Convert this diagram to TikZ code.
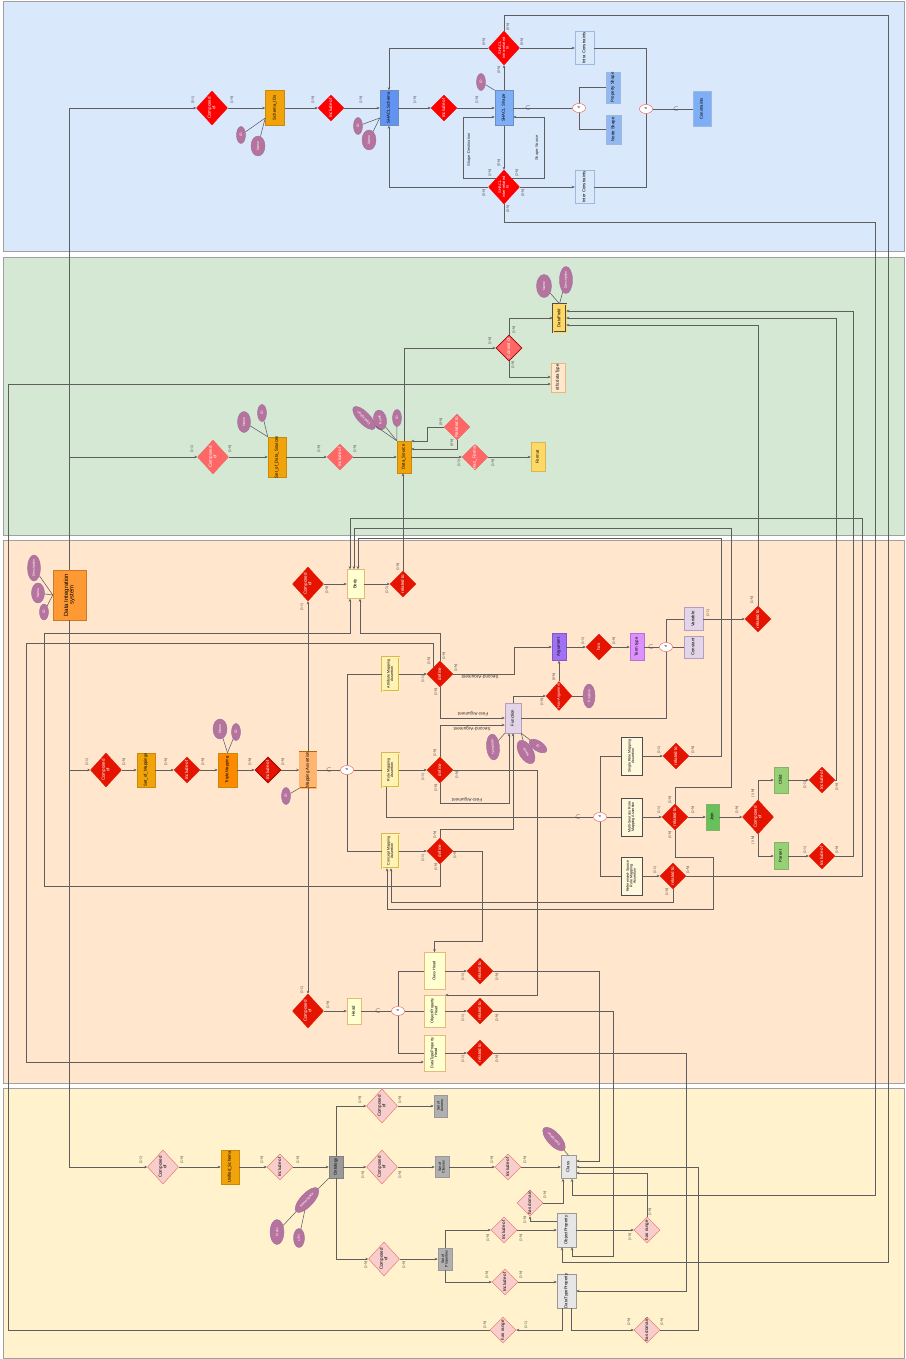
\documentclass[tikz,border=0pt]{standalone}
\usepackage{fontspec,graphicx}
\setmainfont{Liberation Sans}
\usetikzlibrary{positioning,arrows.meta,shapes.geometric}
\definecolor{bandblue}{HTML}{DAE8FC}
\definecolor{bandgreen}{HTML}{D5E8D4}
\definecolor{bandorange}{HTML}{FFE6CC}
\definecolor{bandyellow}{HTML}{FFF2CC}
\definecolor{bandline}{HTML}{A0A0A0}
\definecolor{wire}{HTML}{5E5E5E}
\definecolor{redbright}{HTML}{FF0000}
\definecolor{redsoft}{HTML}{FF6666}
\definecolor{reddeep}{HTML}{E51400}
\definecolor{redline}{HTML}{A50000}
\definecolor{rosefill}{HTML}{F8CECC}
\definecolor{roseline}{HTML}{EA6B66}
\definecolor{mauve}{HTML}{B5739D}
\definecolor{mauveline}{HTML}{9673A6}
\definecolor{amber}{HTML}{F0A30A}
\definecolor{amberline}{HTML}{C98A08}
\definecolor{royal}{HTML}{6393F0}
\definecolor{sky}{HTML}{7EAEF5}
\definecolor{skyline}{HTML}{6C8EBF}
\definecolor{paleblue}{HTML}{92B8F2}
\definecolor{frameblue}{HTML}{A0B8E0}
\definecolor{gold}{HTML}{FFD966}
\definecolor{goldline}{HTML}{D6B656}
\definecolor{peachline}{HTML}{E6B87A}
\definecolor{tangerine}{HTML}{FF9933}
\definecolor{pumpkin}{HTML}{FF8A00}
\definecolor{apricot}{HTML}{FFB570}
\definecolor{rust}{HTML}{B46504}
\definecolor{cream}{HTML}{FFF2B3}
\definecolor{ivory}{HTML}{FFFFD0}
\definecolor{linen}{HTML}{FFF8DC}
\definecolor{grape}{HTML}{A070F5}
\definecolor{orchid}{HTML}{DD90FF}
\definecolor{lilac}{HTML}{E1D5E7}
\definecolor{grass}{HTML}{67C05A}
\definecolor{leaf}{HTML}{97D077}
\definecolor{leafline}{HTML}{82B366}
\definecolor{slate}{HTML}{999999}
\definecolor{ash}{HTML}{B0B0B0}
\definecolor{mist}{HTML}{E6E6E6}
\newcommand{\vt}[1]{\makebox[0pt]{\raisebox{-.5\height}[0pt][0pt]{\rotatebox{90}{\def\arraystretch{.8}\begin{tabular}{@{}c@{}}#1\end{tabular}}}}}

\begin{document}
\begin{tikzpicture}[x=1pt,y=-1pt,font=\fontsize{4.3}{4.8}\selectfont,
  band/.style={draw=bandline,line width=.6pt},
  sz/.style 2 args={minimum width=#1,minimum height=#2},
  ent/.style={rectangle,inner sep=0,line width=.5pt},
  rel/.style={diamond,inner sep=0,minimum width=26,minimum height=26,line width=.4pt,text=white,font=\fontsize{4.5}{4.9}\selectfont},
  big/.style={minimum width=31,minimum height=34},
  relA/.style={rel,fill=redbright,draw=redbright},
  relG/.style={rel,fill=redsoft,draw=roseline},
  relO/.style={rel,fill=reddeep,draw=reddeep},
  relY/.style={rel,fill=rosefill,draw=roseline,text=black},
  attr/.style={ellipse,inner sep=0,fill=mauve,draw=mauveline,line width=.4pt,text=white,font=\fontsize{3.5}{3.8}\selectfont},
  spec/.style={ellipse,inner sep=0,minimum width=13,minimum height=9,draw=roseline,fill=white,line width=.5pt,font=\fontsize{3.4}{3.8}\selectfont},
  sub/.style={inner sep=0,text=black!80,font=\fontsize{6}{6}\selectfont},
  card/.style={rotate=90,inner sep=0,text=black!75,font=\fontsize{3.4}{3.8}\selectfont},
  role/.style={inner sep=0,text=black!80,font=\fontsize{4.6}{5}\selectfont},
  arr/.style={draw=wire,line width=.55pt,-{Stealth[length=3pt,width=2.6pt]}},
  con/.style={draw=wire,line width=.55pt}]
\useasboundingbox (0,0) rectangle (905,1359);
% bands
\draw[band,fill=bandblue] (3,1) rectangle (904,251);
\draw[band,fill=bandgreen] (3,257) rectangle (904,535);
\draw[band,fill=bandorange] (3,540) rectangle (904,1083);
\draw[band,fill=bandyellow] (3,1088) rectangle (904,1358);

% SHACL part
\node[relA,big] (cmpA) at (212,108) {\vt{Composed\\of}};
\node[ent,sz={19}{35},fill=amber,draw=amberline] (schemaIDs) at (275,108) {\vt{Schema\_IDs}};
\node[relA] (incA) at (331,108) {\vt{Include of}};
\node[ent,sz={18}{35},fill=royal,draw=skyline] (shaclSchema) at (389,108) {\vt{SHACL Schema}};
\node[relA] (incB) at (444,108) {\vt{Include of}};
\node[ent,sz={18}{35},fill=sky,draw=skyline] (shaclShape) at (504,108) {\vt{SHACL Shape}};
\node[relA,big,font=\fontsize{3.9}{4.2}\selectfont] (intraRel) at (504,48) {\vt{SHACL\\intra-related\\to}};
\node[relA,big,font=\fontsize{3.9}{4.2}\selectfont] (interRel) at (504,187) {\vt{SHACL\\inter-related\\to}};
\node[ent,sz={19}{33},fill=bandblue,draw=frameblue] (intraC) at (584.5,48) {\vt{Intra Constraints}};
\node[ent,sz={19}{33},fill=bandblue,draw=frameblue] (interC) at (584.5,187) {\vt{Inter Constraints}};
\node[spec] (spcShape) at (579,108) {\vt{d}};
\node[ent,sz={14}{31},fill=paleblue,draw=frameblue] (propShape) at (613,87.5) {\vt{Property Shape}};
\node[ent,sz={15}{29},fill=paleblue,draw=frameblue] (nodeShape) at (613.5,129.5) {\vt{Node Shape}};
\node[spec] (spcCons) at (646,109) {\vt{d}};
\node[ent,sz={18}{35},fill=sky,draw=frameblue] (constraints) at (702,109) {\vt{Constraints}};
\node[attr,sz={17}{9},rotate=90] (idA) at (241,135) {ID};
\node[attr,sz={20}{14},rotate=90] (nameA) at (258,146) {Name};
\node[attr,sz={17}{9},rotate=90] (idB) at (358,126) {ID};
\node[attr,sz={20}{14},rotate=90] (nameB) at (369,140) {Name};
\node[attr,sz={17}{9},rotate=90] (idC) at (481,82) {ID};
\node[role,rotate=90,font=\fontsize{4}{4.4}\selectfont] (dstLbl) at (469,150) {Shape-Destination};
\node[role,rotate=90,font=\fontsize{4}{4.4}\selectfont] (srcLbl) at (537,148) {Shape-Source};

% data sources part
\node[relG,big] (cmpB) at (213,457) {\vt{Composed\\of}};
\node[ent,sz={18}{40},fill=amber,draw=amberline] (setDS) at (277,457) {\vt{Set\_of\_Data\_Sources}};
\node[relG] (incC) at (340,457) {\vt{Include of}};
\node[ent,sz={14}{32},fill=amber,draw=amberline] (dataSource) at (404,457) {\vt{Data\_Source}};
\node[relG] (relE) at (457,427) {\vt{Related to}};
\node[relG] (fmtRel) at (475,457) {\vt{Has\_Format}};
\node[ent,sz={14}{29},fill=gold,draw=goldline] (format) at (538,457) {\vt{Format}};
\node[relG,draw=redline,line width=.8pt] (consist) at (509,348) {\vt{Consist of}};
\node[ent,sz={13}{28},fill=gold,draw=black!70,double=gold,double distance=.6pt] (dataField) at (559.5,318) {\vt{DataField}};
\node[ent,sz={14}{29},fill=bandorange,draw=peachline] (dataType) at (558,377.5) {\vt{rdfs:dataType}};
\node[attr,sz={17}{9},rotate=90] (idD) at (262,413) {ID};
\node[attr,sz={21}{13},rotate=90] (nameD) at (244,422) {Name};
\node[attr,sz={30}{12},rotate=134] (descE) at (364,418) {Description};
\node[attr,sz={20}{13},rotate=100] (nameE) at (380,420) {Name};
\node[attr,sz={17}{9},rotate=90] (idE) at (397,418) {ID};
\node[attr,sz={23}{15},rotate=90] (nameF) at (544,286) {Name};
\node[attr,sz={27}{13},rotate=90] (descF) at (566,280) {Description};

% mapping part
\node[ent,sz={33}{50},fill=tangerine,draw=tangerine!80!black,font=\fontsize{6}{6.8}\selectfont] (dis) at (69.5,595) {\vt{Data Integration\\system}};
\node[attr,sz={26}{13},rotate=90] (descG) at (34,568) {Description};
\node[attr,sz={20}{13},rotate=90] (nameG) at (38,593) {Name};
\node[attr,sz={16}{9},rotate=90] (idG) at (44,612) {ID};
\node[relO,big] (cmpC) at (106,770) {\vt{Composed\\of}};
\node[ent,sz={18}{34},fill=amber,draw=amberline] (setMap) at (146,770) {\vt{Set\_of\_Mappings}};
\node[relO] (incD) at (187,770) {\vt{Include of}};
\node[ent,sz={19}{34},fill=pumpkin,draw=amberline] (triple) at (227.5,770) {\vt{TripleMapping}};
\node[attr,sz={20}{14},rotate=90] (nameH) at (220,729) {Name};
\node[attr,sz={17}{9},rotate=90] (idH) at (236,732) {ID};
\node[relO,draw=redline,line width=.9pt] (incE) at (268,770) {\vt{Include of}};
\node[ent,sz={17}{36},fill=apricot,draw=rust,double=apricot,double distance=.6pt] (mapAss) at (308,770) {\vt{Mapping Assertion}};
\node[attr,sz={17}{9},rotate=90] (idI) at (286,796) {ID};
\node[relO,big] (cmpTop) at (308,584) {\vt{Composed\\of}};
\node[ent,sz={17}{29},fill=ivory,draw=peachline] (body) at (355.5,584) {\vt{Body}};
\node[relO] (relBody) at (403,584) {\vt{related to}};
\node[spec] (spcMap) at (347,770) {\vt{d}};
\node[ent,sz={17}{34},fill=cream,draw=goldline,double=cream,double distance=.5pt,font=\fontsize{3.6}{4}\selectfont] (attrMA) at (390.5,674) {\vt{Attribute Mapping\\Assertion}};
\node[ent,sz={17}{34},fill=cream,draw=goldline,double=cream,double distance=.5pt,font=\fontsize{3.6}{4}\selectfont] (roleMA) at (390.5,770) {\vt{Role Mapping\\Assertion}};
\node[ent,sz={17}{34},fill=cream,draw=goldline,double=cream,double distance=.5pt,font=\fontsize{3.6}{4}\selectfont] (concMA) at (390.5,851) {\vt{Concept Mapping\\Assertion}};
\node[relO] (defA) at (440,674) {\vt{define}};
\node[relO] (defR) at (440,770) {\vt{define}};
\node[relO] (defC) at (440,851) {\vt{define}};
\node[ent,sz={14}{27},fill=grape,draw=grape!80!black] (argument) at (559,647) {\vt{Argument}};
\node[relO] (hasD) at (599,647) {\vt{has}};
\node[ent,sz={14}{27},fill=orchid,draw=orchid!80!black] (termType) at (637,647) {\vt{Term type}};
\node[spec] (spcTerm) at (666,647) {\vt{d}};
\node[ent,sz={19}{23},fill=lilac,draw=mauveline!70] (variable) at (693.5,619) {\vt{Variable}};
\node[ent,sz={19}{22},fill=lilac,draw=mauveline!70] (constant) at (693.5,647) {\vt{Constant}};
\node[relO] (relVar) at (758,619) {\vt{related to}};
\node[ent,sz={16}{30},fill=lilac,draw=mauveline!70] (function) at (513,718) {\vt{Function}};
\node[relO,sz={26}{29},font=\fontsize{3.8}{4.2}\selectfont] (hasArgD) at (559,696) {\vt{Has-Argument}};
\node[attr,sz={24}{12},rotate=90] (position) at (589,696) {Position};
\node[attr,sz={26}{13},rotate=95] (template) at (493,747) {Template};
\node[attr,sz={26}{14},rotate=121] (nameJ) at (526,752) {Name};
\node[attr,sz={20}{10},rotate=-33] (idJ) at (538,746) {ID};
\node[spec] (spcRole) at (600,817) {\vt{d}};
\node[ent,sz={21}{38},fill=linen,draw=black!70,font=\fontsize{3.6}{4}\selectfont] (singleRMA) at (631.5,756) {\vt{Single Role Mapping\\Assertion}};
\node[ent,sz={21}{38},fill=linen,draw=black!70,font=\fontsize{3.6}{4}\selectfont] (multiRMA) at (631.5,817) {\vt{Multi-Sources Role\\Mapping Assertion}};
\node[ent,sz={21}{38},fill=linen,draw=black!70,font=\fontsize{3.6}{4}\selectfont] (refRMA) at (631.5,876) {\vt{Referenced-Source\\Role Mapping\\Assertion}};
\node[relO] (relS) at (676,756) {\vt{related to}};
\node[relO] (relM) at (675,817) {\vt{related to}};
\node[relO] (relR) at (673,876) {\vt{related to}};
\node[ent,sz={13}{26},fill=grass,draw=leafline] (join) at (712.5,817) {\vt{Join}};
\node[relO,big] (cmpJ) at (758,817) {\vt{Composed\\of}};
\node[ent,sz={14}{26},fill=leaf,draw=leafline] (child) at (781,780) {\vt{Child}};
\node[ent,sz={14}{27},fill=leaf,draw=leafline] (parent) at (781,856) {\vt{Parent}};
\node[relO] (incChild) at (822,780) {\vt{Include of}};
\node[relO] (incParent) at (822,856) {\vt{Include of}};
\node[relO,big] (cmpBot) at (308,1011) {\vt{Composed\\of}};
\node[ent,sz={14}{26},fill=ivory,draw=peachline] (head) at (354,1011) {\vt{Head}};
\node[spec] (spcHead) at (398,1011) {\vt{d}};
\node[ent,sz={21}{37},fill=ivory,draw=peachline,font=\fontsize{3.8}{4.2}\selectfont] (classHead) at (434.5,971) {\vt{Class Head}};
\node[ent,sz={21}{32},fill=ivory,draw=peachline,font=\fontsize{3.8}{4.2}\selectfont] (opHead) at (434.5,1011) {\vt{ObjectProperty\\Head}};
\node[ent,sz={21}{36},fill=ivory,draw=peachline,font=\fontsize{3.8}{4.2}\selectfont] (dtpHead) at (434.5,1053) {\vt{DataTypeProperty\\Head}};
\node[relO] (relCH) at (480,971) {\vt{related to}};
\node[relO] (relOH) at (480,1011) {\vt{related to}};
\node[relO] (relDH) at (480,1053) {\vt{related to}};
\node[role,rotate=180] (argS1) at (480,677) {Second-Argument};
\node[role,rotate=180] (argF1) at (473,714) {First-Argument};
\node[role,rotate=180] (argS2) at (472,729) {Second-Argument};
\node[role,rotate=180] (argF2) at (467,800) {First-Argument};

% ontology part
\node[relY,big] (cmpY) at (163,1167) {\vt{Composed\\of}};
\node[ent,sz={18}{34},fill=amber,draw=amberline] (unified) at (230,1167) {\vt{Unified\_Schema}};
\node[relY] (incY) at (280,1167) {\vt{Include of}};
\node[ent,sz={14}{22},fill=slate,draw=black!50] (ontology) at (336,1167) {\vt{Ontology}};
\node[relY,big] (cmpAx) at (382,1106) {\vt{Composed\\of}};
\node[relY,big] (cmpCl) at (382,1167) {\vt{Composed\\of}};
\node[relY,big] (cmpPr) at (384,1259) {\vt{Composed\\of}};
\node[ent,sz={13}{22},fill=ash,draw=slate,font=\fontsize{3.6}{4}\selectfont] (axioms) at (440.5,1106) {\vt{Set of\\Axioms}};
\node[ent,sz={14}{21},fill=ash,draw=slate,font=\fontsize{3.6}{4}\selectfont] (classes) at (442,1167) {\vt{Set of\\Classes}};
\node[ent,sz={14}{22},fill=ash,draw=slate,font=\fontsize{3.6}{4}\selectfont] (props) at (445,1259) {\vt{Set of\\Properties}};
\node[relY] (incCl) at (508,1167) {\vt{Include of}};
\node[relY] (incOP) at (504,1230) {\vt{Include of}};
\node[relY] (incDP) at (505,1282) {\vt{Include of}};
\node[ent,sz={15}{23},fill=mist,draw=slate] (class) at (568.5,1167) {\vt{Class}};
\node[ent,sz={19}{34},fill=mist,draw=slate] (objProp) at (566.5,1230) {\vt{ObjectProperty}};
\node[ent,sz={19}{34},fill=mist,draw=slate] (dtProp) at (566.5,1291) {\vt{DataTypeProperty}};
\node[relY] (domOP) at (530,1203) {\vt{has domain}};
\node[relY] (rngOP) at (647,1230) {\vt{has range}};
\node[relY] (domDP) at (647,1330) {\vt{has domain}};
\node[relY] (rngDP) at (503,1330) {\vt{has range}};
\node[attr,sz={32}{13},rotate=47] (nsK) at (307,1200) {Namespace};
\node[attr,sz={25}{14},rotate=90] (prefK) at (277,1232) {Prefix};
\node[attr,sz={19}{11},rotate=90] (uriK) at (299,1238) {URI};
\node[attr,sz={30}{13},rotate=133] (descL) at (554,1139) {Description};

% attribute links
\draw[con] (idA) -- (schemaIDs.west |- 0,118);
\draw[con] (nameA) -- (schemaIDs.west |- 0,118);
\draw[con] (idB) -- (shaclSchema.west |- 0,118);
\draw[con] (nameB) -- (shaclSchema.west |- 0,118);
\draw[con] (idC) -- (shaclShape.north west);
\draw[con] (idD) -- (setDS.north west);
\draw[con] (nameD) -- (setDS.north west);
\draw[con] (descE) -- (dataSource.north west);
\draw[con] (nameE) -- (dataSource.north west);
\draw[con] (idE) -- (dataSource.north west);
\draw[con] (nameF) -- (dataField.north);
\draw[con] (descF) -- (dataField.north);
\draw[con] (descG) -- (dis.west);
\draw[con] (nameG) -- (dis.west);
\draw[con] (idG) -- (dis.west);
\draw[con] (nameH) -- (triple.north);
\draw[con] (idH) -- (triple.north);
\draw[con] (idI) -- (mapAss.south west);
\draw[con] (position) -- (hasArgD);
\draw[con] (template) -- (function.south west);
\draw[con] (nameJ) -- (function.south east);
\draw[con] (idJ) -- (function.south east);
\draw[con] (nsK) -- (ontology.south west);
\draw[con] (prefK) -- (nsK);
\draw[con] (uriK) -- (nsK);
\draw[con] (descL) -- (class.north);

% SHACL links
\draw[arr] (dis) |- (cmpA);
\draw[arr] (cmpA) -- (schemaIDs);
\draw[arr] (schemaIDs) -- (incA);
\draw[arr] (incA) -- (shaclSchema);
\draw[arr] (shaclSchema) -- (incB);
\draw[arr] (incB) -- (shaclShape);
\draw[arr] (shaclShape) -- (intraRel);
\draw[arr] (shaclShape) -- (interRel);
\draw[arr] (intraRel.west) -| (shaclSchema.north);
\draw[arr] (interRel.west) -| (shaclSchema.south);
\draw[arr] (intraRel) -- (intraC);
\draw[arr] (interRel) -- (interC);
\draw[arr] (interRel.north west) -| (463,117) -- (shaclShape.west |- 0,117);
\draw[arr] (interRel.north east) -| (544,117) -- (shaclShape.east |- 0,117);
\draw[arr] (intraRel.north) |- (888,15) |- (562,1262) -- (objProp.south -| 562,0);
\draw[arr] (interRel.south) |- (875,222) |- (572,1195) -- (class.south -| 572,0);
\draw[con] (shaclShape) -- (spcShape);
\draw[con] (spcShape) |- (propShape);
\draw[con] (spcShape) |- (nodeShape);
\draw[con] (intraC) -| (spcCons);
\draw[con] (interC) -| (spcCons);
\draw[con] (spcCons) -- (constraints);

% data source links
\draw[arr] (dis) |- (cmpB);
\draw[arr] (cmpB) -- (setDS);
\draw[arr] (setDS) -- (incC);
\draw[arr] (incC) -- (dataSource);
\draw[arr] (relE.west) -| (427,441) -- (dataSource.east |- 0,441);
\draw[arr] (relE.south) |- (dataSource.east |- 0,449);
\draw[arr] (dataSource) -- (fmtRel);
\draw[arr] (fmtRel) -- (format);
\draw[arr] (dataSource.north) |- (consist);
\draw[arr] (consist.north) |- (dataField);
\draw[arr] (consist.south) |- (dataType.west |- 0,377);
\draw[arr] (rngDP.west) -| (8,384) -- (dataType.west |- 0,384);

% mapping links
\draw[arr] (dis) |- (cmpC);
\draw[arr] (cmpC) -- (setMap);
\draw[arr] (setMap) -- (incD);
\draw[arr] (incD) -- (triple);
\draw[arr] (triple) -- (incE);
\draw[arr] (incE) -- (mapAss);
\draw[arr] (mapAss) -- (cmpTop);
\draw[arr] (mapAss) -- (cmpBot);
\draw[arr] (cmpTop) -- (body);
\draw[arr] (body) -- (relBody);
\draw[arr] (relBody.north) -- (relBody.north |- dataSource.south);
\draw[con] (mapAss) -- (spcMap);
\draw[con] (spcMap) |- (attrMA);
\draw[con] (spcMap) -- (roleMA);
\draw[con] (spcMap) |- (concMA);
\draw[arr] (attrMA) -- (defA);
\draw[arr] (roleMA) -- (defR);
\draw[arr] (concMA) -- (defC);
\draw[arr] (defA.north) |- (360,633) -- (body.south -| 360,0);
\draw[arr] (defA.north west) |- (26,643) |- (dtpHead.west |- 0,1062);
\draw[arr] (defA.east) -| (514,647) -- (argument);
\draw[arr] (defA.south) |- (function);
\draw[arr] (defR.north) |- (function.west |- 0,725);
\draw[arr] (defR.south) |- (509,803) -- (function.south -| 509,0);
\draw[arr] (defR.east) -| (537,995) -- (opHead.east |- 0,995);
\draw[arr] (defC.north) |- (513,829) -- (function.south);
\draw[arr] (defC.south) |- (44,886) |- (350,633) -- (body.south -| 350,0);
\draw[arr] (defC.east) -| (482,941) -| (classHead.north);
\draw[arr] (argument) -- (hasD);
\draw[arr] (hasD) -- (termType);
\draw[con] (termType) -- (spcTerm);
\draw[con] (spcTerm) |- (variable);
\draw[con] (spcTerm) -- (constant);
\draw[con] (spcTerm) |- (function);
\draw[arr] (variable) -- (relVar);
\draw[arr] (relVar.north) |- (dataField.east |- 0,325);
\draw[arr] (function.north) |- (hasArgD);
\draw[arr] (hasArgD) -- (argument);
\draw[con] (roleMA.south -| 386,0) |- (spcRole);
\draw[con] (spcRole) |- (singleRMA);
\draw[con] (spcRole) -- (multiRMA);
\draw[con] (spcRole) |- (refRMA);
\draw[arr] (singleRMA) -- (relS);
\draw[arr] (multiRMA) -- (relM);
\draw[arr] (refRMA) -- (relR);
\draw[arr] (relS.east) -| (721,538) -| (body.north -| 358,0);
\draw[arr] (relM.north) |- (731,787) |- (354,528) -- (body.north -| 354,0);
\draw[arr] (relR.east) -| (862,518) -| (body.north -| 350,0);
\draw[arr] (relM.south) |- (713,857) -- (713,909) -| (concMA.south -| 387,0);
\draw[arr] (relR.south) |- (391,902) -- (concMA.south -| 391,0);
\draw[arr] (relM) -- (join);
\draw[arr] (join) -- (cmpJ);
\draw[arr] (cmpJ.north) |- (child);
\draw[arr] (cmpJ.south) |- (parent);
\draw[arr] (child) -- (incChild);
\draw[arr] (parent) -- (incParent);
\draw[arr] (incChild.east) -| (836,318) -- (dataField);
\draw[arr] (incParent.east) -| (853,311) -- (dataField.east |- 0,311);
\draw[arr] (cmpBot) -- (head);
\draw[con] (head) -- (spcHead);
\draw[con] (spcHead) |- (classHead);
\draw[con] (spcHead) -- (opHead);
\draw[con] (spcHead) |- (dtpHead);
\draw[arr] (classHead) -- (relCH);
\draw[arr] (opHead) -- (relOH);
\draw[arr] (dtpHead) -- (relDH);
\draw[arr] (relCH.east) -| (599,1161) -- (class.east |- 0,1161);
\draw[arr] (relOH.east) -| (613,1256) -| (objProp.south -| 572,0);
\draw[arr] (relDH.east) -| (686,1291) -- (dtProp);

% ontology links
\draw[arr] (dis) |- (cmpY);
\draw[arr] (cmpY) -- (unified);
\draw[arr] (unified) -- (incY);
\draw[arr] (incY) -- (ontology);
\draw[arr] (ontology.north) |- (cmpAx);
\draw[arr] (ontology) -- (cmpCl);
\draw[arr] (ontology.south) |- (cmpPr);
\draw[arr] (cmpAx) -- (axioms);
\draw[arr] (cmpCl) -- (classes);
\draw[arr] (cmpPr) -- (props);
\draw[arr] (classes) -- (incCl);
\draw[arr] (incCl) -- (class);
\draw[arr] (props.north) |- (incOP);
\draw[arr] (props.south) |- (incDP);
\draw[arr] (incOP) -- (objProp);
\draw[arr] (incDP) -- (dtProp.west |- incDP);
\draw[arr] (objProp.west |- 0,1221) -| (domOP.south);
\draw[arr] (domOP.east) -| (class.south -| 563,0);
\draw[arr] (objProp) -- (rngOP);
\draw[arr] (rngOP.north) |- (class.east |- 0,1173);
\draw[arr] (dtProp.south -| 562,0) |- (rngDP);
\draw[arr] (dtProp.south -| 571,0) |- (domDP);
\draw[arr] (domDP.east) -| (698,1167) -- (class.east |- 0,1167);

% subset marks
\node[sub] (subShape) at (528,108) {$\subset$};
\node[sub] (subCons) at (676,109) {$\subset$};
\node[sub] (subMap) at (329,770) {$\subset$};
\node[sub] (subTerm) at (651,647) {$\subset$};
\node[sub] (subRole) at (578,817) {$\subset$};
\node[sub] (subHead) at (378,1011) {$\subset$};

% cardinalities
\foreach \p [count=\i] in {(232,100),(313,100),(361,100),(415,100),(477,100),
  (230,449),(319,449),(355,449),(493,463),(490,341),(514,330),(513,365),
  (327,590),(398,567),(124,762),(166,762),(203,762),(250,762),(283,762),
  (429,661),(444,656),(436,692),(456,668),(435,753),(436,788),(457,775),
  (435,835),(436,867),(455,855),(614,641),(542,702),(752,600),(693,750),
  (693,810),(670,800),(670,835),(688,870),(667,892),(737,810),(837,787),
  (837,850),(328,1005),(497,977),(497,1018),(497,1059),
  (182,1160),(262,1160),(298,1160),(360,1100),(400,1100),(363,1175),(400,1175),
  (366,1265),(404,1265),(492,1160),(525,1160),(488,1238),(521,1238),
  (487,1275),(521,1275),(545,1195),(525,1220),(630,1237),(650,1212),
  (629,1322),(662,1322),(485,1325)}
  \node[card] (n\i) at \p {(1-N)};
\foreach \p [count=\i] in {(192,449),(459,463),(302,607),(387,590),(87,762),
  (423,679),(423,777),(423,858),(583,641),(708,613),(659,750),(659,810),
  (655,870),(805,785),(805,850),(302,990),(463,977),(463,1018),(463,1059),
  (141,1160),(526,1325)}
  \node[card] (u\i) at \p {(1-1)};
\foreach \p [count=\i] in {(484,42),(499,70),(508,27),(522,42),(499,163),
  (484,193),(523,193),(508,209),(441,422),(452,443),(554,677)}
  \node[card] (z\i) at \p {(0-N)};
\foreach \p [count=\i] in {(490,173),(517,173)}
  \node[card] (t\i) at \p {(2-N)};
\foreach \p [count=\i] in {(753,793),(753,840)}
  \node[card] (m\i) at \p {(1-M)};
\node[card] (o1) at (193,100) {(0-1)};
\end{tikzpicture}
\end{document}
